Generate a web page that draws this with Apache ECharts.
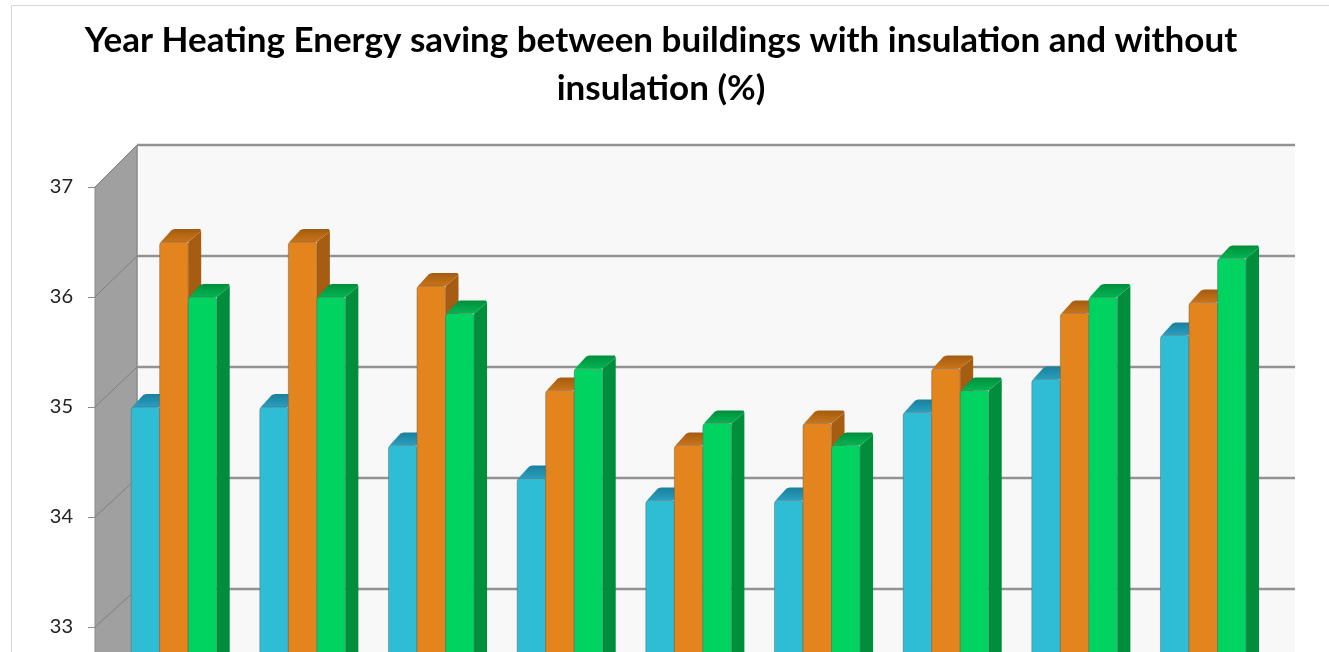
<!DOCTYPE html>
<html>
<head>
<meta charset="utf-8">
<style>html,body{margin:0;padding:0;background:#fff;overflow:hidden}#c{width:1329px;height:652px}</style>
<script src="https://cdn.jsdelivr.net/npm/echarts@6/dist/echarts.min.js"></script>
</head>
<body>
<div id="c"></div>
<script>
var titleLines = ['Year Heating Energy saving between buildings with insulation and without', 'insulation (%)'];
var categories = ['1', '2', '3', '4', '5', '6', '7', '8', '9'];
var yTicks = [37, 36, 35, 34, 33];
var blueValues   = [35.0, 35.0, 34.65, 34.35, 34.15, 34.15, 34.95, 35.25, 35.65];
var orangeValues = [36.5, 36.5, 36.1, 35.15, 34.65, 34.85, 35.35, 35.85, 35.95];
var greenValues  = [36.0, 36.0, 35.85, 35.35, 34.85, 34.65, 35.15, 36.0, 36.35];

var Y_MIN = 32, Y_MAX = 37;
var WALL = 42;

function wallItem(params, api) {
  var band = api.size([1, 0])[0];
  var l = api.coord([0, Y_MAX])[0] - band / 2;
  var r = api.coord([categories.length - 1, Y_MAX])[0] + band / 2;
  var top = api.coord([0, Y_MAX])[1];
  var bottom = api.coord([0, Y_MIN])[1];
  return {
    type: 'group',
    children: [
      { type: 'rect', shape: { x: l + WALL, y: top - WALL, width: r - l, height: bottom - top + WALL }, style: { fill: '#f8f8f8' } },
      { type: 'polygon', shape: { points: [[l, top], [l + WALL, top - WALL], [l + WALL, bottom], [l, bottom]] }, style: { fill: '#a0a0a0' } },
      { type: 'line', shape: { x1: l + WALL, y1: top - WALL, x2: l + WALL, y2: bottom }, style: { stroke: '#8a8a8a', lineWidth: 1.5 } },
      { type: 'line', shape: { x1: l, y1: top, x2: l, y2: bottom }, style: { stroke: '#8a8a8a', lineWidth: 1 } }
    ]
  };
}

function gridItem(params, api) {
  var v = api.value(0);
  var band = api.size([1, 0])[0];
  var l = api.coord([0, v])[0] - band / 2;
  var r = api.coord([categories.length - 1, v])[0] + band / 2;
  var y = api.coord([0, v])[1];
  var d = WALL - (Y_MAX - v);
  return {
    type: 'group',
    children: [
      { type: 'line', shape: { x1: l, y1: y, x2: l + WALL, y2: y - d }, style: { stroke: '#7e7e7e', lineWidth: 1 } },
      { type: 'line', shape: { x1: l + WALL, y1: y - d, x2: r + WALL, y2: y - d }, style: { stroke: '#929292', lineWidth: 2.5 } }
    ]
  };
}

function barRenderer(slot, front, top, topDark, side) {
  return function (params, api) {
    var i = api.value(0);
    var band = api.size([1, 0])[0];
    var w = band * 0.2217;
    var depth = 13;
    var p = api.coord([i, api.value(1)]);
    var base = api.coord([i, Y_MIN])[1];
    var x = p[0] + 14.6 + (slot - 1.5) * w;
    var y = p[1];
    return {
      type: 'group',
      children: [
        { type: 'polygon', shape: { points: [[x + w, y], [x + w + depth, y - depth + 2], [x + w + depth, base], [x + w, base]] }, style: { fill: side } },
        { type: 'polygon', shape: { smooth: 0, points: [[x + 1, y], [x + depth - 1, y - depth + 1], [x + depth + 2, y - depth], [x + w + depth - 1, y - depth], [x + w + depth, y - depth + 2], [x + w, y]] },
          style: { fill: { type: 'linear', x: 0, y: 0, x2: 0, y2: 1, colorStops: [{ offset: 0, color: topDark }, { offset: 1, color: top }] } } },
        { type: 'rect', shape: { x: x, y: y, width: w, height: base - y, r: [3, 3, 0, 0] }, style: { fill: front, stroke: 'rgba(95,95,95,0.45)', lineWidth: 1 } }
      ]
    };
  };
}

function barSeries(name, values, slot, front, top, topDark, side) {
  return {
    type: 'custom', name: name, silent: true, clip: false,
    renderItem: barRenderer(slot, front, top, topDark, side),
    encode: { x: 0, y: 1 },
    data: values.map(function (v, i) { return [i, v]; })
  };
}

var chart = echarts.init(document.getElementById('c'), null, { renderer: 'canvas' });
chart.setOption({
  animation: false,
  backgroundColor: '#ffffff',
  title: {
    text: titleLines.join('\n'),
    left: 656, top: 12, textAlign: 'center',
    textStyle: { fontFamily: 'Lato', fontWeight: 'bold', fontSize: 35, lineHeight: 48, color: '#000000' }
  },
  graphic: [
    { type: 'polyline', silent: true, shape: { points: [[11.5, 652], [11.5, 5.5], [1329, 5.5]] }, style: { stroke: '#d6d6d6', lineWidth: 1, fill: null } }
  ],
  grid: { left: 95, top: 187, width: 1158, height: 550, outerBoundsMode: 'none' },
  xAxis: {
    type: 'category', data: categories,
    axisLine: { show: false }, axisTick: { show: false }, axisLabel: { show: false }, splitLine: { show: false }
  },
  yAxis: {
    type: 'value', min: Y_MIN, max: Y_MAX, interval: 1,
    splitLine: { show: false },
    axisLine: { show: false },
    axisTick: { show: true, length: 7, lineStyle: { color: '#8a8a8a', width: 1 } },
    axisLabel: { margin: 22, fontFamily: 'Lato', fontSize: 20, color: '#222222' }
  },
  series: [
    { type: 'custom', silent: true, clip: false, z: 1, renderItem: wallItem, encode: { y: 0 }, data: [[Y_MAX]] },
    { type: 'custom', silent: true, clip: false, z: 1, renderItem: gridItem, encode: { y: 0 }, data: yTicks.map(function (v) { return [v]; }) },
    Object.assign(barSeries('Series 1', blueValues, 0, '#2fbdd6', '#2a9fc0', '#1b7f9c', '#1c8aa8'), { z: 2 }),
    Object.assign(barSeries('Series 2', orangeValues, 1, '#e4841d', '#c9741a', '#a45c10', '#a65c11'), { z: 2 }),
    Object.assign(barSeries('Series 3', greenValues, 2, '#00d35f', '#00b551', '#008e3d', '#008e3d'), { z: 2 })
  ]
});
</script>
</body>
</html>
